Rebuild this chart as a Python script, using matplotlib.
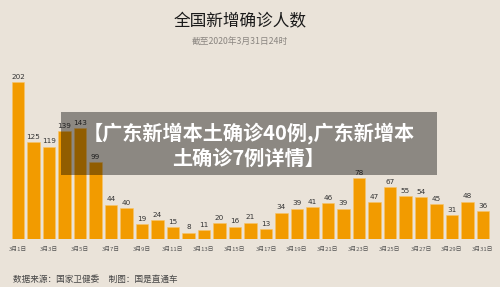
import matplotlib.pyplot as plt
from matplotlib.patches import Rectangle

plt.rcParams['font.family'] = ['Noto Sans CJK SC', 'DejaVu Sans']

# ---------- data -------------------------------------------------------------

days = list(range(1, 32))
new_cases = [202, 125, 119, 139, 143, 99, 44, 40, 19, 24, 15, 8, 11, 20, 16, 21,
             13, 34, 39, 41, 46, 39, 78, 47, 67, 55, 54, 45, 31, 48, 36]
tick_days = days[::2]
tick_labels = [f"3月{d}日" for d in tick_days]

title = "全国新增确诊人数"
subtitle = "截至2020年3月31日24时"
footer = "数据来源：国家卫健委     制图：国是直通车"
overlay = "【广东新增本土确诊40例,广东新增本\n土确诊7例详情】"

bg = "#EAE3D9"
bar_color = "#F29B00"

# ---------- figure -----------------------------------------------------------

fig = plt.figure(figsize=(5.0, 2.87), dpi=100, facecolor=bg)
ax = fig.add_axes([0.02, 0.1672, 0.964, 0.589])
ax.set_facecolor("none")

ax.bar(days, new_cases, width=0.78, color=bar_color,
       edgecolor="#F7C56A", linewidth=0.4)
for d, v in zip(days, new_cases):
    ax.text(d, v + 3, str(v), ha="center", va="bottom",
            fontsize=5.2, color="#333333", family="DejaVu Sans")

ax.set_xlim(1 - 0.516, 31.58)
ax.set_ylim(0, 217.5)
ax.set_xticks(tick_days)
ax.set_xticklabels(tick_labels, fontsize=4.2, color="#555555")
ax.tick_params(length=0, pad=6)
ax.set_yticks([])
for s in ax.spines.values():
    s.set_visible(False)

# titles and footer
fig.text(0.48, 0.924, title, ha="center", va="center",
         fontsize=12, color="#1a1a1a", weight="medium")
fig.text(0.48, 0.853, subtitle, ha="center", va="center",
         fontsize=6.3, color="#8a8580")
fig.text(0.026, 0.028, footer, ha="left", va="center",
         fontsize=6.2, color="#444444")

# translucent headline banner
fig.patches.append(Rectangle((61 / 500, 1 - 175 / 287), 376 / 500, 63 / 287,
                             transform=fig.transFigure, facecolor="black",
                             alpha=0.4, edgecolor="none", zorder=5))
fig.text(0.497, 0.494, overlay, ha="center", va="center", fontsize=14.5,
         color="white", weight="bold", linespacing=1.2, zorder=6)

fig.savefig("out.png", dpi=100, facecolor=bg)
